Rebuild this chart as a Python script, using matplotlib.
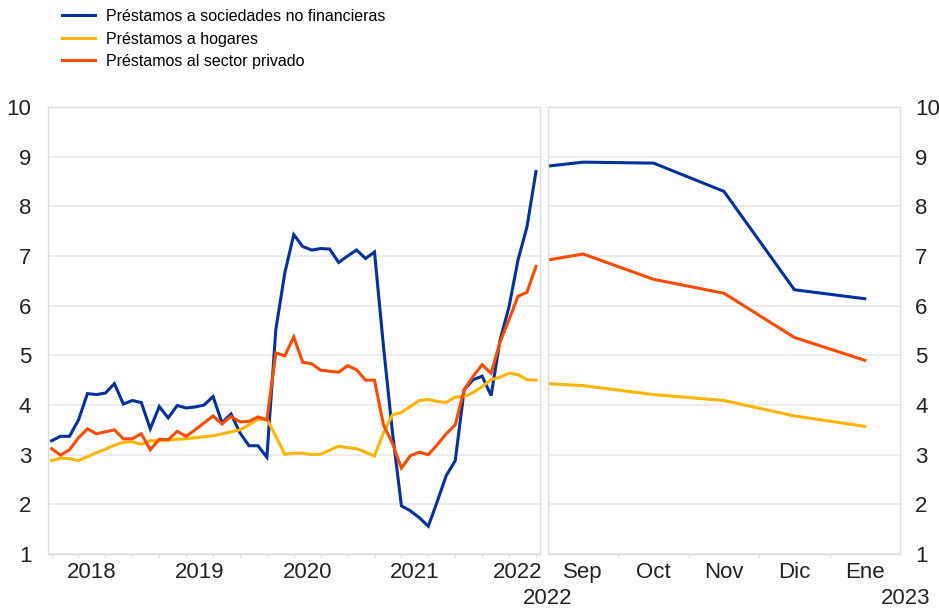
import numpy as np
import matplotlib.pyplot as plt

plt.rcParams['font.family'] = ['Liberation Sans', 'DejaVu Sans']

# ------------------------------------------------------------------
# Data (monthly, Feb 2018 - Aug 2022) and projections (Sep 2022 - Jan 2023)
# ------------------------------------------------------------------
nfc = [3.28, 3.37, 3.37, 3.70, 4.23, 4.21, 4.24, 4.43, 4.02, 4.09,
       4.05, 3.52, 3.97, 3.74, 3.99, 3.94, 3.96, 4.00, 4.17, 3.64,
       3.82, 3.44, 3.18, 3.18, 2.95, 5.52, 6.66, 7.43, 7.19, 7.12,
       7.15, 7.14, 6.87, 7.00, 7.12, 6.95, 7.08, 5.18, 3.45, 1.97,
       1.87, 1.73, 1.56, 2.06, 2.58, 2.88, 4.31, 4.51, 4.58, 4.19,
       5.31, 5.98, 6.92, 7.59, 8.70]
households = [2.88, 2.93, 2.92, 2.88, 2.96, 3.04, 3.11, 3.19, 3.25, 3.26,
              3.21, 3.28, 3.28, 3.29, 3.31, 3.32, 3.34, 3.36, 3.38, 3.42,
              3.46, 3.50, 3.60, 3.71, 3.72, 3.37, 3.01, 3.03, 3.03, 3.00,
              3.01, 3.09, 3.17, 3.14, 3.12, 3.05, 2.97, 3.44, 3.80, 3.85,
              3.97, 4.09, 4.11, 4.07, 4.05, 4.16, 4.17, 4.25, 4.37, 4.51,
              4.56, 4.64, 4.61, 4.51, 4.50]
private = [3.12, 2.99, 3.10, 3.34, 3.52, 3.42, 3.46, 3.50, 3.32, 3.32,
           3.42, 3.10, 3.31, 3.30, 3.47, 3.37, 3.50, 3.64, 3.78, 3.62,
           3.77, 3.66, 3.67, 3.76, 3.70, 5.05, 4.99, 5.37, 4.86, 4.83,
           4.70, 4.68, 4.66, 4.79, 4.71, 4.50, 4.50, 3.60, 3.23, 2.73,
           2.98, 3.05, 3.00, 3.20, 3.42, 3.60, 4.31, 4.58, 4.81, 4.64,
           5.27, 5.72, 6.19, 6.27, 6.79]

years = ['2018', '2019', '2020', '2021', '2022']

nfc_proj = [8.81, 8.89, 8.87, 8.30, 6.32, 6.14]
households_proj = [4.43, 4.39, 4.21, 4.09, 3.78, 3.57]
private_proj = [6.92, 7.04, 6.53, 6.25, 5.36, 4.90]
months = ['Sep', 'Oct', 'Nov', 'Dic', 'Ene']

labels = ['Préstamos a sociedades no financieras',
          'Préstamos a hogares',
          'Préstamos al sector privado']
colors = ['#003299', '#ffb400', '#ff4b00']

grid_c = '#ebebeb'
frame_c = '#dcdcdc'
text_c = '#222222'
fs = 16

# ------------------------------------------------------------------
# Figure and panels
# ------------------------------------------------------------------
W, H = 939, 609
fig = plt.figure(figsize=(W / 100, H / 100), dpi=100)
bottom = 1 - 554 / H
height = (554 - 107) / H
ax1 = fig.add_axes([48 / W, bottom, (540 - 48) / W, height])
ax2 = fig.add_axes([548 / W, bottom, (900 - 548) / W, height])

# left panel: history
t = np.arange(len(nfc))
handles = []
for series, c in zip([nfc, households, private], colors):
    h, = ax1.plot(t, series, color=c, lw=2.2, solid_joinstyle='miter')
    handles.append(h)
ax1.set_xlim(-0.4, 54.45)

year_pos = [4.5 + 12 * k for k in range(len(years))]
year_pos[-1] = 52.0
ax1.set_xticks(year_pos)
ax1.set_xticklabels(years)
ax1.set_xticks(np.arange(0, len(nfc), 3), minor=True)

# right panel: projections
tp = np.arange(len(nfc_proj)) - 1.0
tp[0] = -0.5
for series, c in zip([nfc_proj, households_proj, private_proj], colors):
    ax2.plot(tp, series, color=c, lw=2.2)
ax2.set_xlim(-0.5, 4.5)
ax2.set_xticks(range(len(months)))
ax2.set_xticklabels(months)
ax2.set_xticks(np.arange(0.5, len(months) - 1, 1), minor=True)

for ax in (ax1, ax2):
    ax.set_ylim(1, 10)
    ax.set_yticks(range(1, 11))
    ax.grid(axis='y', color=grid_c, lw=1.3)
    ax.set_axisbelow(True)
    for s in ax.spines.values():
        s.set_color(frame_c)
        s.set_linewidth(1.0)
    ax.tick_params(axis='both', which='major', length=0, labelsize=fs,
                   labelcolor=text_c)
    ax.tick_params(axis='x', which='major', pad=6)
    ax.tick_params(axis='x', which='minor', length=3, color='#e4e4e4',
                   width=1.0)

ax1.tick_params(axis='y', pad=12)
ax2.yaxis.tick_right()
ax2.tick_params(axis='y', pad=11)

# second row of the time labels
ax2.text(0.0, -0.10, '2022', transform=ax2.transAxes, ha='center',
         va='center', fontsize=fs, color=text_c)
ax2.text(1.017, -0.10, '2023', transform=ax2.transAxes, ha='center',
         va='center', fontsize=fs, color=text_c)

fig.legend(handles, labels, loc='upper left',
           bbox_to_anchor=(62 / W, 1 - 9 / H), frameon=False,
           fontsize=11.5, handlelength=2.05, handletextpad=0.7,
           labelspacing=0.47, borderpad=0, borderaxespad=0)

fig.savefig('out.png', dpi=100)
